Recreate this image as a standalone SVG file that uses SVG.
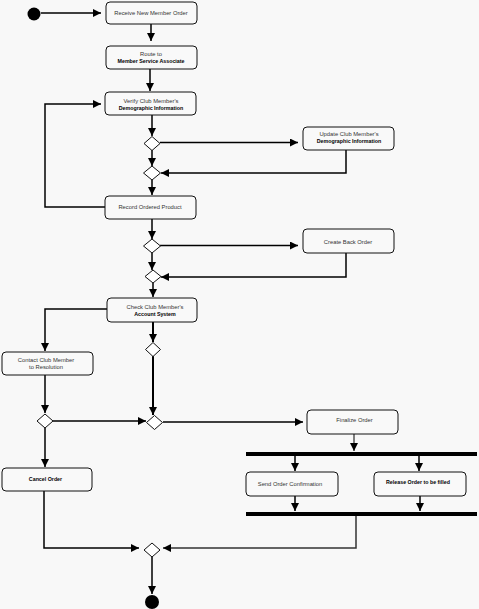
<svg xmlns="http://www.w3.org/2000/svg" width="479" height="609" viewBox="0 0 479 609">
<style>
.bg{fill:#f8f8f8}
.box{fill:#f9f9f9;stroke:#111;stroke-width:1}
.dia{fill:#fff;stroke:#111;stroke-width:1}
.t{font-family:"Liberation Sans",Arial,sans-serif;font-size:5.8px;fill:#333;text-anchor:middle}
.b{font-weight:bold;font-size:5.3px;fill:#000}
.c{fill:none;stroke:#000;stroke-width:1.5}
.bar{fill:#000}
</style>
<defs>
<marker id="ah" markerUnits="userSpaceOnUse" markerWidth="8" markerHeight="8" refX="8" refY="4" orient="auto">
<path d="M0,0 L8,4 L0,8 z" fill="#000"/>
</marker>
</defs>
<rect class="bg" x="0" y="0" width="479" height="609"/>

<g id="connectors">
<path class="c" d="M41,13 H101" marker-end="url(#ah)"/>
<path class="c" d="M151,24 V41" marker-end="url(#ah)"/>
<path class="c" d="M150,69 V91" marker-end="url(#ah)"/>
<path class="c" d="M152,115 V136" marker-end="url(#ah)"/>
<path class="c" d="M160,142.5 H298" marker-end="url(#ah)"/>
<path class="c" d="M346,150 V173 H161" marker-end="url(#ah)"/>
<path class="c" d="M152,150 V166" marker-end="url(#ah)"/>
<path class="c" d="M152,180 V195" marker-end="url(#ah)"/>
<path class="c" d="M105,207 H45 V104 H101" marker-end="url(#ah)"/>
<path class="c" d="M152,219 V239" marker-end="url(#ah)"/>
<path class="c" d="M160,245.5 H298" marker-end="url(#ah)"/>
<path class="c" d="M346,253 V277 H161" marker-end="url(#ah)"/>
<path class="c" d="M152,253 V270" marker-end="url(#ah)"/>
<path class="c" d="M153,283 V297" marker-end="url(#ah)"/>
<path class="c" d="M107,309 H45 V351" marker-end="url(#ah)"/>
<path class="c" d="M153,322 V342" marker-end="url(#ah)" style="stroke-width:2"/>
<path class="c" d="M153,356 V415" marker-end="url(#ah)" style="stroke-width:2"/>
<path class="c" d="M45,375 V413" marker-end="url(#ah)"/>
<path class="c" d="M53,421 H146" marker-end="url(#ah)"/>
<path class="c" d="M163,422 H303" marker-end="url(#ah)"/>
<path class="c" d="M354,434 V451" marker-end="url(#ah)" style="stroke:#555"/>
<path class="c" d="M295,456 V471" marker-end="url(#ah)"/>
<path class="c" d="M419,456 V471" marker-end="url(#ah)"/>
<path class="c" d="M295,496 V511" marker-end="url(#ah)"/>
<path class="c" d="M420,496 V511" marker-end="url(#ah)"/>
<path class="c" d="M356,516 V548 H163" marker-end="url(#ah)" style="stroke:#333"/>
<path class="c" d="M45,428 V467" marker-end="url(#ah)"/>
<path class="c" d="M44,491 V548 H139" marker-end="url(#ah)"/>
<path class="c" d="M152,557 V594" marker-end="url(#ah)"/>
</g>

<g id="start"><circle cx="34" cy="14" r="6.5" fill="#000"/></g>

<g id="receive">
<rect class="box" x="106" y="2" width="91" height="22" rx="4"/>
<text class="t" x="151" y="15">Receive New Member Order</text>
</g>
<g id="route">
<rect class="box" x="106" y="46" width="91" height="23" rx="4"/>
<text class="t" x="151" y="55.5">Route to</text>
<text class="t b" x="151" y="62.5">Member Service Associate</text>
</g>
<g id="verify">
<rect class="box" x="105" y="92" width="91" height="23" rx="4"/>
<text class="t" x="151" y="102.5">Verify Club Member's</text>
<text class="t b" x="151" y="109.5">Demographic Information</text>
</g>
<g id="d1"><polygon class="dia" points="152,136.5 160,143.5 152,150.5 144,143.5"/></g>
<g id="update">
<rect class="box" x="303" y="127" width="91" height="23" rx="4"/>
<text class="t" x="349" y="136">Update Club Member's</text>
<text class="t b" x="349" y="142.5">Demographic Information</text>
</g>
<g id="d2"><polygon class="dia" points="152,166 160.5,173 152,180 143.5,173"/></g>
<g id="record">
<rect class="box" x="105" y="196" width="91" height="23" rx="4"/>
<text class="t" x="150" y="209">Record Ordered Product</text>
</g>
<g id="d3"><polygon class="dia" points="152,239 160.5,246 152,253 143.5,246"/></g>
<g id="createback">
<rect class="box" x="303" y="229" width="91" height="24" rx="4"/>
<text class="t" x="348" y="243.5">Create Back Order</text>
</g>
<g id="d4"><polygon class="dia" points="153,270 161,276.5 153,283 145,276.5"/></g>
<g id="check">
<rect class="box" x="107" y="298" width="90" height="24" rx="4"/>
<text class="t" x="155" y="309">Check Club Member's</text>
<text class="t b" x="155" y="316">Account System</text>
</g>
<g id="contact">
<rect class="box" x="2" y="352" width="91" height="23" rx="4"/>
<text class="t" x="46" y="362">Contact Club Member</text>
<text class="t" x="46" y="368.5">to Resolution</text>
</g>
<g id="d5"><polygon class="dia" points="153,342.5 160.5,349.5 153,356.5 145.5,349.5"/></g>
<g id="d6"><polygon class="dia" points="154.5,415.5 162.5,422.5 154.5,429.5 146.5,422.5"/></g>
<g id="d7"><polygon class="dia" points="45,414 53,421 45,428 37,421"/></g>
<g id="finalize">
<rect class="box" x="307" y="410" width="91" height="24" rx="4"/>
<text class="t" x="354.5" y="422">Finalize Order</text>
</g>
<g id="fork"><rect class="bar" x="246" y="452" width="231" height="4"/></g>
<g id="sendconf">
<rect class="box" x="246" y="472" width="92" height="24" rx="4"/>
<text class="t" x="290" y="486">Send Order Confirmation</text>
</g>
<g id="release">
<rect class="box" x="374" y="472" width="92" height="24" rx="4"/>
<text class="t b" x="418" y="484">Release Order to be filled</text>
</g>
<g id="join"><rect class="bar" x="246" y="512" width="231" height="4"/></g>
<g id="cancel">
<rect class="box" x="2" y="468" width="90" height="23" rx="4"/>
<text class="t b" x="45.5" y="480.5">Cancel Order</text>
</g>
<g id="d8"><polygon class="dia" points="152,543 160,550 152,557 144,550"/></g>
<g id="end"><circle cx="152" cy="602" r="7" fill="#000"/></g>
</svg>
